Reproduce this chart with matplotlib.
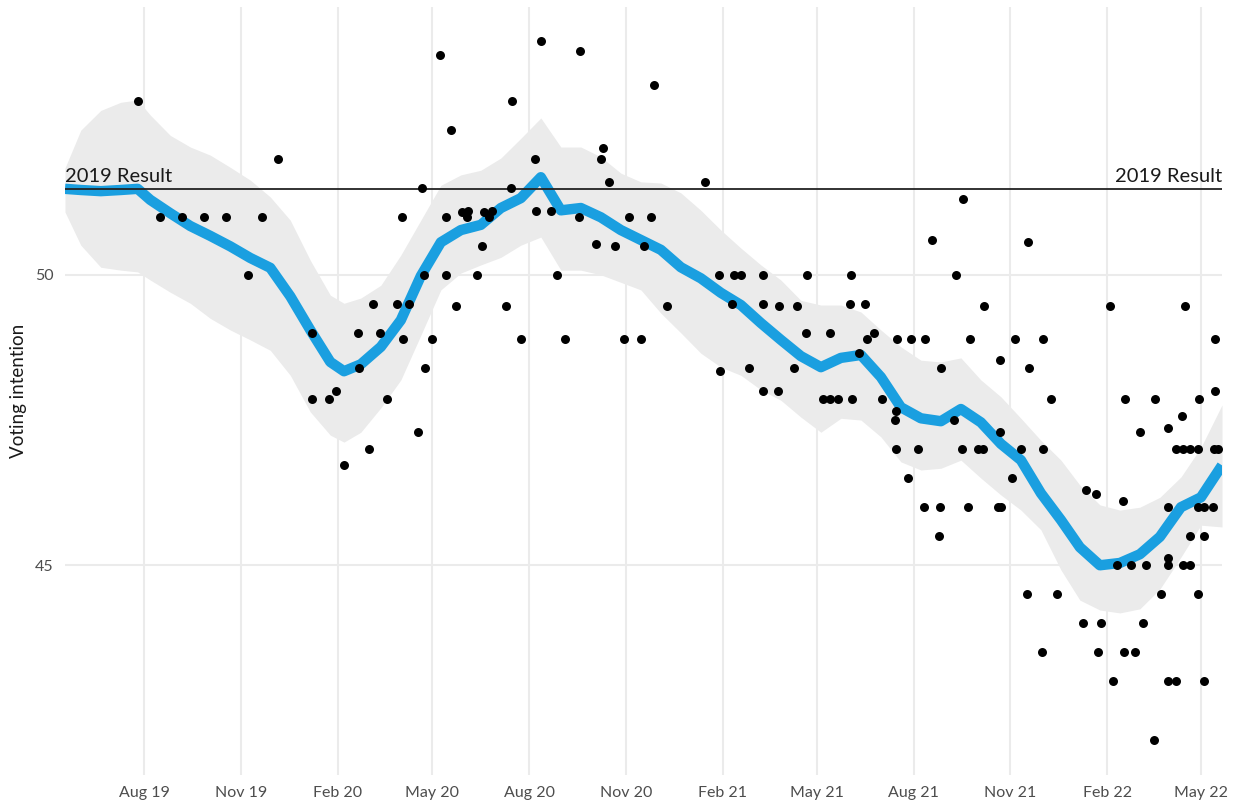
import matplotlib
matplotlib.use("Agg")
import matplotlib.pyplot as plt
import numpy as np
import pandas as pd

# ---------------- data ----------------
base_date = "2019-05-18"          # 2019 election day
end_day = 1099                    # 2022 election day offset
result_2019 = 51.48

# poll points: days since 2019 election, voting intention
poll_day = [69, 202, 90, 111, 132, 153, 187, 174, 320, 235, 278, 299, 293, 315, 327,
            321, 279, 257, 235, 251, 306, 339, 265, 289, 335,
            356, 452, 489, 559, 425, 367, 511, 446, 509, 517, 608, 424, 362, 377, 383,
            382, 398, 406, 403, 447, 462, 488, 536, 557, 396, 504, 522, 550, 341, 362,
            391, 467, 621, 635, 642, 663, 705, 371, 419, 572, 634, 663, 678, 695, 349,
            433, 475, 531, 547, 704, 342, 622, 650, 692, 663, 677,
            853, 824, 915, 747, 846, 746, 760, 873, 993, 1064, 727, 762, 768, 790, 804,
            817, 860, 902, 929, 1092, 754, 832, 888, 916, 1092, 1007, 1035, 1077, 720,
            727, 734, 748, 776, 937,
            789, 788, 844, 1061, 888, 1021, 1048, 789, 810, 852, 867, 872, 908, 929,
            1055, 1062, 1069, 1076, 1091, 1095, 801, 900, 970, 979, 1005, 816, 831, 858,
            886, 889, 1048, 1076, 1082, 1090, 830, 1069, 1082, 1048, 999, 1013, 1027,
            1048, 1062, 1069, 914, 942, 1041, 1076, 967, 984, 1024, 928, 981, 1006, 1016,
            995, 1048, 1055, 1082, 1034]
poll_value = [53.0, 52.0, 51.0, 51.0, 51.0, 51.0, 51.0, 50.0, 51.0, 49.0, 49.0, 49.0, 49.5, 49.5, 49.5,
              48.9, 48.4, 48.0, 47.87, 47.87, 47.87, 51.5, 46.73, 47.0, 47.3,
              53.78, 54.02, 53.85, 53.27, 53.0, 52.5, 52.18, 52.0, 52.0, 51.6, 51.6, 51.5, 51.0, 51.08, 51.1,
              51.0, 51.08, 51.1, 51.0, 51.1, 51.1, 51.0, 51.0, 51.0, 50.5, 50.53, 50.5, 50.5, 50.0, 50.0,
              50.0, 50.0, 50.0, 50.0, 50.0, 50.0, 50.0, 49.47, 49.47, 49.47, 49.5, 49.5, 49.47, 49.47, 48.9,
              48.9, 48.9, 48.9, 48.9, 49.0, 48.4, 48.35, 48.4, 48.4, 48.0, 48.0,
              51.3, 50.6, 50.56, 50.0, 50.0, 49.5, 49.5, 49.47, 49.47, 49.47, 49.0, 48.9, 49.0, 48.9, 48.9,
              48.9, 48.9, 48.9, 48.9, 48.9, 48.65, 48.4, 48.53, 48.4, 48.0, 47.87, 47.87, 47.87, 47.87,
              47.87, 47.87, 47.87, 47.87, 47.87,
              47.65, 47.5, 47.5, 47.57, 47.3, 47.3, 47.36, 47.0, 47.0, 47.0, 47.0, 47.0, 47.0, 47.0,
              47.0, 47.0, 47.0, 47.0, 47.0, 47.0, 46.5, 46.5, 46.3, 46.23, 46.1, 46.0, 46.0, 46.0,
              46.0, 46.0, 46.0, 46.0, 46.0, 46.0, 45.5, 45.5, 45.5, 45.13, 45.0, 45.0, 45.0,
              45.0, 45.0, 45.0, 44.5, 44.5, 44.5, 44.5, 44.0, 44.0, 44.0, 43.5, 43.5, 43.5, 43.5,
              43.0, 43.0, 43.0, 43.0, 42.0]

# smoothed trend and uncertainty band
trend_day = [0, 15, 34, 53, 69, 81, 100, 119, 138, 157, 176, 195, 214, 233, 252, 265,
             281, 300, 319, 338, 357, 376, 395, 414, 433, 452, 471, 490, 509, 528, 547,
             566, 585, 604, 623, 642, 661, 680, 699, 718, 737, 756, 775, 794, 813, 832,
             851, 870, 889, 908, 927, 946, 964, 983, 1002, 1021, 1040, 1060, 1079, 1099]
trend_value = [51.48, 51.46, 51.44, 51.46, 51.48, 51.29, 51.06, 50.84, 50.67, 50.49, 50.29,
               50.12, 49.63, 49.05, 48.50, 48.34, 48.46, 48.76, 49.22, 49.98, 50.56, 50.77,
               50.86, 51.15, 51.32, 51.68, 51.11, 51.15, 50.99, 50.77, 50.60, 50.43, 50.13,
               49.94, 49.69, 49.48, 49.17, 48.88, 48.60, 48.41, 48.57, 48.62, 48.24, 47.72,
               47.53, 47.48, 47.69, 47.46, 47.09, 46.81, 46.24, 45.78, 45.31, 45.00, 45.04,
               45.19, 45.49, 46.00, 46.17, 46.72]
band_low = [51.08, 50.51, 50.13, 50.08, 50.05, 49.91, 49.70, 49.51, 49.25, 49.05, 48.88,
            48.70, 48.27, 47.64, 47.24, 47.12, 47.29, 47.71, 48.19, 48.96, 49.74, 50.03,
            50.17, 50.30, 50.51, 50.65, 50.08, 50.08, 50.00, 49.87, 49.74, 49.34, 49.00,
            48.65, 48.41, 48.27, 48.02, 47.84, 47.55, 47.29, 47.53, 47.50, 47.21, 46.78,
            46.64, 46.67, 46.81, 46.50, 46.21, 45.95, 45.61, 44.92, 44.40, 44.23, 44.18,
            44.25, 44.59, 45.14, 45.69, 45.66]
band_high = [51.84, 52.49, 52.83, 52.97, 53.01, 52.75, 52.40, 52.20, 52.06, 51.85, 51.63,
             51.34, 50.94, 50.25, 49.65, 49.51, 49.60, 49.82, 50.34, 50.94, 51.54, 51.72,
             51.80, 52.01, 52.35, 52.70, 52.20, 52.20, 52.03, 51.75, 51.60, 51.58, 51.41,
             51.11, 50.77, 50.46, 50.17, 49.91, 49.56, 49.48, 49.48, 49.36, 49.05, 48.76,
             48.53, 48.50, 48.57, 48.19, 47.90, 47.53, 47.15, 46.81, 46.38, 46.04, 45.95,
             46.00, 46.17, 46.52, 47.03, 47.76]

x_tick_dates = ["2019-08-01", "2019-11-01", "2020-02-01", "2020-05-01", "2020-08-01",
                "2020-11-01", "2021-02-01", "2021-05-01", "2021-08-01", "2021-11-01",
                "2022-02-01", "2022-05-01"]
x_tick_labels = ["Aug 19", "Nov 19", "Feb 20", "May 20", "Aug 20", "Nov 20",
                 "Feb 21", "May 21", "Aug 21", "Nov 21", "Feb 22", "May 22"]
y_ticks = [45, 50]
y_label = "Voting intention"
result_label = "2019 Result"

# ---------------- plotting ----------------
plt.rcParams['font.family'] = ['Lato', 'DejaVu Sans']

base = pd.Timestamp(base_date)
to_dates = lambda d: base + pd.to_timedelta(np.asarray(d), unit="D")

fig = plt.figure(figsize=(12.4, 8.02), dpi=100)
ax = fig.add_axes([65 / 1240, 1 - 775 / 802, (1222 - 65) / 1240, (775 - 7) / 802])

grid_c = "#EBEBEB"
ax.set_facecolor("white")
for s in ax.spines.values():
    s.set_visible(False)

ax.set_xlim(to_dates([0])[0], to_dates([end_day])[0])
ax.set_ylim(41.39, 54.61)

ax.set_xticks(pd.to_datetime(x_tick_dates))
ax.set_xticklabels(x_tick_labels)
ax.set_yticks(y_ticks)
ax.set_yticklabels([str(v) for v in y_ticks])
ax.tick_params(axis="both", length=0, colors="#4D4D4D", labelsize=11.5)
ax.tick_params(axis="x", pad=8)
ax.tick_params(axis="y", pad=8)
ax.grid(True, color=grid_c, linewidth=1.5, zorder=0)
ax.set_axisbelow(True)

ax.fill_between(to_dates(trend_day), band_low, band_high, color="#EBEBEB",
                linewidth=0, zorder=1)
ax.plot(to_dates(trend_day), trend_value, color="#1A9FE0", linewidth=7.5,
        solid_capstyle="butt", solid_joinstyle="round", zorder=2)
ax.axhline(result_2019, color="#222222", linewidth=1.3, zorder=3)
ax.scatter(to_dates(poll_day), poll_value, s=42, color="black", linewidths=0, zorder=4)

ax.text(0.0, result_2019 + 0.06, result_label, transform=ax.get_yaxis_transform(),
        ha="left", va="bottom", fontsize=14.5, color="#1a1a1a", zorder=5)
ax.text(1.0, result_2019 + 0.06, result_label, transform=ax.get_yaxis_transform(),
        ha="right", va="bottom", fontsize=14.5, color="#1a1a1a", zorder=5)

ax.set_ylabel(y_label, fontsize=13.5, color="#1a1a1a", labelpad=6)

fig.savefig("out.png", dpi=100, facecolor="white")
